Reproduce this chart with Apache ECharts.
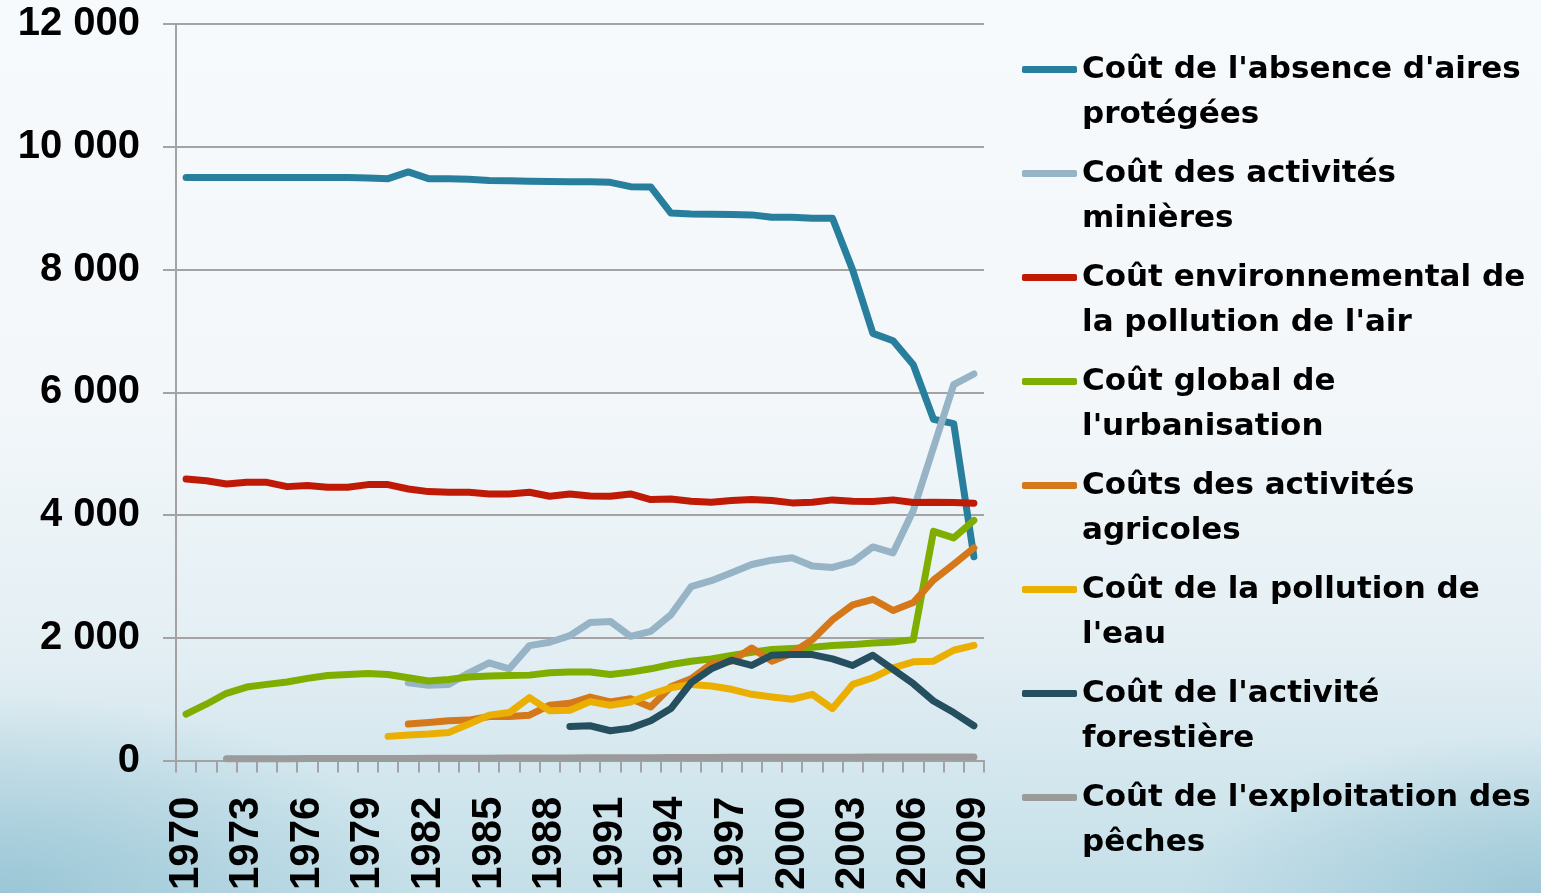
<!DOCTYPE html>
<html lang="fr">
  <head>
    <meta charset="UTF-8" />
    <title>Coûts</title>
    <script src="https://cdn.jsdelivr.net/npm/echarts@6.0.0/dist/echarts.min.js"></script>
    <style>
      html, body { margin: 0; padding: 0; }
      body {
        width: 1541px; height: 893px; overflow: hidden;
        background:
          radial-gradient(ellipse 420px 200px at 0% 100%, rgba(140,190,208,0.75), rgba(140,190,208,0) 100%),
          radial-gradient(ellipse 360px 160px at 100% 100%, rgba(140,190,208,0.7), rgba(140,190,208,0) 100%),
          linear-gradient(180deg, #f6fafc 0%, #f3f7fa 45%, #e4eff4 72%, #c4dfe8 100%);
      }
      #chart { width: 1541px; height: 893px; }
    </style>
  </head>
  <body>
    <div id="chart"></div>
    <script>
      // années 1970 - 2009
      var years = [];
      for (var y = 1970; y <= 2009; y++) years.push(String(y));

      var seriesNames = [
        "Coût de l'absence d'aires protégées",
        "Coût des activités minières",
        "Coût environnemental de la pollution de l'air",
        "Coût global de l'urbanisation",
        "Coûts des activités agricoles",
        "Coût de la pollution de l'eau",
        "Coût de l'activité forestière",
        "Coût de l'exploitation des pêches"
      ];
      // texte de la légende, coupé sur deux lignes
      var legendLabels = [
        "Coût de l'absence d'aires\nprotégées",
        "Coût des activités\nminières",
        "Coût environnemental de\nla pollution de l'air",
        "Coût global de\nl'urbanisation",
        "Coûts des activités\nagricoles",
        "Coût de la pollution de\nl'eau",
        "Coût de l'activité\nforestière",
        "Coût de l'exploitation des\npêches"
      ];
      var colors = ["#287f9d", "#97b4c7", "#bf1a06", "#7fae00", "#d5781a", "#eaaf00", "#254f5f", "#9b9b9b"];

      // 1970 -> 2009
      var airesProtegees = [9500, 9500, 9500, 9500, 9500, 9500, 9500, 9500, 9500, 9490,
        9480, 9590, 9480, 9480, 9470, 9450, 9445, 9440, 9435, 9430,
        9430, 9420, 9350, 9345, 8920, 8905, 8900, 8895, 8890, 8850,
        8850, 8835, 8835, 7990, 6960, 6840, 6450, 5560, 5490, 3320];
      var minieres = [null, null, null, null, null, null, null, null, null, null,
        null, 1268, 1225, 1241, 1430, 1592, 1495, 1873, 1927, 2035,
        2250, 2267, 2024, 2105, 2375, 2833, 2930, 3060, 3195, 3265,
        3303, 3168, 3146, 3238, 3481, 3384, 4075, 5100, 6125, 6298];
      var pollutionAir = [4587, 4560, 4506, 4533, 4533, 4463, 4480, 4452, 4452, 4496,
        4496, 4425, 4382, 4371, 4371, 4344, 4344, 4371, 4307, 4344,
        4310, 4307, 4344, 4253, 4263, 4226, 4209, 4237, 4253, 4237,
        4198, 4209, 4247, 4226, 4220, 4247, 4204, 4209, 4204, 4193];
      var urbanisation = [756, 918, 1096, 1198, 1241, 1279, 1339, 1387, 1403, 1420,
        1403, 1349, 1295, 1322, 1360, 1376, 1387, 1392, 1430, 1441,
        1443, 1403, 1441, 1495, 1565, 1619, 1657, 1711, 1765, 1808,
        1824, 1846, 1873, 1889, 1916, 1932, 1970, 3735, 3627, 3913];
      var agricoles = [null, null, null, null, null, null, null, null, null, null,
        null, 594, 620, 648, 659, 718, 718, 740, 902, 934,
        1035, 955, 1009, 874, 1203, 1332, 1575, 1619, 1834, 1619,
        1753, 1970, 2294, 2537, 2628, 2445, 2574, 2942, 3200, 3465];
      var pollutionEau = [null, null, null, null, null, null, null, null, null, null,
        394, 416, 432, 459, 594, 740, 782, 1025, 810, 821,
        960, 902, 955, 1080, 1187, 1241, 1214, 1161, 1080, 1036,
        999, 1080, 847, 1241, 1349, 1511, 1608, 1619, 1797, 1878];
      var forestiere = [null, null, null, null, null, null, null, null, null, null,
        null, null, null, null, null, null, null, null, null, 556,
        567, 486, 529, 648, 847, 1268, 1495, 1635, 1549, 1716,
        1727, 1727, 1657, 1549, 1716, 1484, 1252, 971, 782, 567];
      var peches = [null, null, 30, 30, 30, 30, 32, 32, 33, 33,
        35, 35, 36, 37, 38, 38, 40, 40, 42, 42,
        44, 45, 46, 47, 48, 50, 50, 52, 52, 53,
        54, 55, 55, 56, 57, 58, 58, 60, 60, 60];

      var allData = [airesProtegees, minieres, pollutionAir, urbanisation,
        agricoles, pollutionEau, forestiere, peches];

      var yTicks = { min: 0, max: 12000, interval: 2000 };

      var chart = echarts.init(document.getElementById("chart"));
      var axisGrey = "#a3a3a3";

      var series = seriesNames.map(function (name, i) {
        return {
          name: name,
          type: "line",
          data: allData[i],
          symbol: "none",
          connectNulls: false,
          lineStyle: { color: colors[i], width: 7, cap: "round", join: "round" },
          itemStyle: { color: colors[i] }
        };
      });

      var option = {
        backgroundColor: "transparent",
        animation: false,
        grid: { left: 176, right: 557, top: 24, bottom: 128, containLabel: false },
        legend: {
          orient: "vertical",
          left: 1022,
          top: 2,
          padding: 0,
          itemGap: -31,
          itemWidth: 55,
          itemHeight: 7,
          icon: "roundRect",
          data: seriesNames,
          // ligne vide en tête pour que le trait soit au niveau de la 1re ligne
          formatter: function (name) {
            return " \n" + legendLabels[seriesNames.indexOf(name)];
          },
          textStyle: {
            fontFamily: "DejaVu Sans, sans-serif",
            fontWeight: "bold",
            fontSize: 31,
            lineHeight: 45,
            color: "#000"
          }
        },
        xAxis: {
          type: "category",
          data: years,
          boundaryGap: true,
          axisLine: { lineStyle: { color: axisGrey, width: 2 } },
          axisTick: { show: true, interval: 0, length: 12, lineStyle: { color: axisGrey, width: 2 } },
          axisLabel: {
            interval: 2,
            rotate: 90,
            margin: 36,
            fontFamily: "Liberation Sans, Arial, sans-serif",
            fontWeight: "bold",
            fontSize: 42,
            color: "#000"
          },
          splitLine: { show: false }
        },
        yAxis: {
          type: "value",
          min: yTicks.min,
          max: yTicks.max,
          interval: yTicks.interval,
          axisLine: { show: true, lineStyle: { color: axisGrey, width: 2 } },
          axisTick: { show: true, inside: false, length: 13, lineStyle: { color: axisGrey, width: 2 } },
          splitLine: { show: true, lineStyle: { color: axisGrey, width: 2 } },
          axisLabel: {
            margin: 36,
            fontFamily: "Liberation Sans, Arial, sans-serif",
            fontWeight: "bold",
            fontSize: 40,
            color: "#000",
            formatter: function (v) {
              return String(v).replace(/\B(?=(\d{3})+(?!\d))/g, " ");
            }
          }
        },
        series: series
      };

      chart.setOption(option);
    </script>
  </body>
</html>
